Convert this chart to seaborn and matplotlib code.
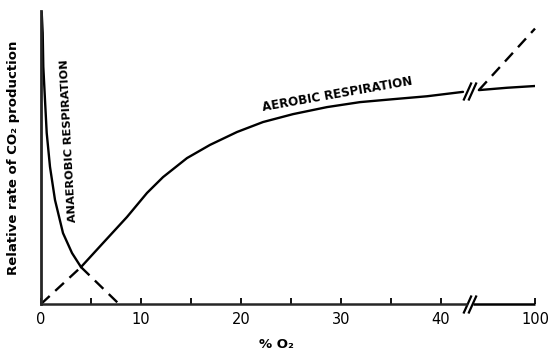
import matplotlib

matplotlib.use("Agg")
import matplotlib.pyplot as plt
import numpy as np
import pandas as pd
import seaborn as sns

# curves (x = % O2, y = relative rate, 0-100)
anaerobic_x = [0.0, 0.07, 0.17, 0.23, 0.4, 0.57, 0.9, 1.4, 2.2, 3.1, 4.0]
anaerobic_y = [100.0, 99.5, 92.5, 81.0, 69.6, 58.4, 46.8, 35.5, 24.2, 17.4, 12.6]

anaerobic_tail_x = [4.0, 7.8]
anaerobic_tail_y = [12.6, 0.0]

aerobic_low_x = [0.0, 4.0]
aerobic_low_y = [0.0, 12.6]

aerobic_x = [4.0, 6.2, 8.6, 10.6, 12.2, 14.6, 16.9, 19.6, 22.2, 25.2, 28.6,
             31.9, 35.2, 38.6, 42.2]
aerobic_y = [12.6, 20.8, 29.7, 37.9, 43.3, 49.8, 54.3, 58.7, 62.1, 64.8, 67.2,
             68.9, 69.9, 70.9, 72.4]

aerobic_hi_x = [50.0, 75.0, 100.0]
aerobic_hi_y = [73.0, 73.8, 74.4]

dashed_hi_x = [50.0, 100.0]
dashed_hi_y = [73.0, 94.0]

major_ticks = [0, 10, 20, 30, 40, 100]
major_labels = ["0", "10", "20", "30", "40", "100"]
minor_ticks = [5, 15, 25, 35]

BREAK_AT = 43.0
BREAK_LO, BREAK_HI = 42.5, 44.5
SQUEEZE = 6.4 / 57.0


def fwd(x):
    x = np.asarray(x, dtype=float)
    return np.where(x <= BREAK_AT, x, BREAK_AT + (x - BREAK_AT) * SQUEEZE)


def inv(t):
    t = np.asarray(t, dtype=float)
    return np.where(t <= BREAK_AT, t, BREAK_AT + (t - BREAK_AT) / SQUEEZE)


def curve(x, y):
    return pd.DataFrame({"o2": x, "rate": y})


sns.set_style("white")
plt.rcParams["font.family"] = ["DejaVu Sans"]
plt.rcParams["text.color"] = "black"
plt.rcParams["axes.labelcolor"] = "black"

fig = plt.figure(figsize=(5.52, 3.6), dpi=100)
ax = fig.add_axes([41 / 552, 56 / 360, 494 / 552, 293 / 360])
ax.set_xscale("function", functions=(fwd, inv))

solid = dict(color="black", lw=1.7, sort=False, estimator=None, ax=ax)

sns.lineplot(data=curve(anaerobic_x, anaerobic_y), x="o2", y="rate", **solid)
sns.lineplot(data=curve(aerobic_x, aerobic_y), x="o2", y="rate", **solid)
sns.lineplot(data=curve(aerobic_hi_x, aerobic_hi_y), x="o2", y="rate", **solid)
for xs, ys in [(anaerobic_tail_x, anaerobic_tail_y),
               (aerobic_low_x, aerobic_low_y),
               (dashed_hi_x, dashed_hi_y)]:
    sns.lineplot(data=curve(xs, ys), x="o2", y="rate", **solid)
for line in ax.lines[3:]:
    line.set_dashes([5, 3.2])
    line.set_clip_on(False)

ax.set_xlim(0, 100)
ax.set_ylim(0, 100)

# spines: thick left, broken bottom
for side in ["top", "right"]:
    ax.spines[side].set_visible(False)
ax.spines["left"].set_linewidth(2.0)
ax.spines["bottom"].set_linewidth(1.8)
ax.spines["bottom"].set_bounds(0, BREAK_LO)
ax.plot([BREAK_HI, 100], [0, 0], color="black", lw=1.8, clip_on=False,
        solid_capstyle="butt")

# break marks ("//") on the axis and on the curve
slash = [(-0.45, -1.0), (0.45, 1.0)]
y_break = (aerobic_y[-1] + aerobic_hi_y[0]) / 2
for yb in [0, y_break]:
    ax.plot([BREAK_LO + 0.1, BREAK_HI - 0.3], [yb, yb], ls="none",
            marker=slash, ms=13, mew=1.6, mec="black", clip_on=False)

ax.set_xticks(major_ticks)
ax.set_xticklabels(major_labels)
ax.set_xticks(minor_ticks, minor=True)
ax.set_yticks([])
ax.tick_params(axis="x", which="both", direction="in", length=4, width=1.3,
               pad=6, labelsize=10.5, colors="black", bottom=True)

ax.set_xlabel("% O₂", fontsize=9.5, fontweight="bold")
ax.xaxis.set_label_coords(0.476, -0.115)
ax.set_ylabel("Relative rate of CO₂ production", fontsize=9.5,
              fontweight="bold")
ax.yaxis.set_label_coords(-0.042, 0.5)

ax.text(29.6, 71.5, "AEROBIC RESPIRATION", rotation=10, rotation_mode="anchor",
        ha="center", va="center", fontsize=8.6, fontweight="bold")
ax.text(2.8, 55.6, "ANAEROBIC RESPIRATION", rotation=93, rotation_mode="anchor",
        ha="center", va="center", fontsize=8.2, fontweight="bold")

fig.savefig("out.png", dpi=100, facecolor="white")
